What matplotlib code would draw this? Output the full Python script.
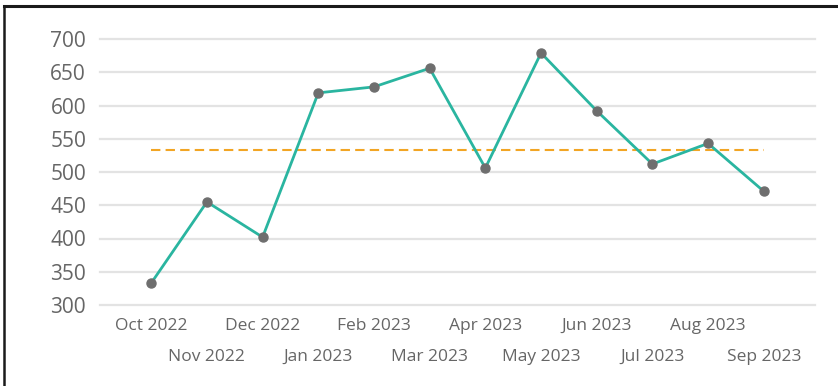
import matplotlib
matplotlib.use("Agg")
import matplotlib.pyplot as plt
from matplotlib.lines import Line2D

months = ["Oct 2022", "Nov 2022", "Dec 2022", "Jan 2023", "Feb 2023", "Mar 2023",
          "Apr 2023", "May 2023", "Jun 2023", "Jul 2023", "Aug 2023", "Sep 2023"]
values = [333, 455, 402, 619, 628, 656, 506, 679, 592, 512, 543, 471]
yticks = [300, 350, 400, 450, 500, 550, 600, 650, 700]

W, H = 838, 386
fig = plt.figure(figsize=(W / 100, H / 100), dpi=100)
plt.rcParams['font.family'] = ['Open Sans', 'DejaVu Sans']

def px(x0, y0, x1, y1):
    return [x0 / W, 1 - y1 / H, (x1 - x0) / W, (y1 - y0) / H]

ax = fig.add_axes(px(100, 39, 815, 305))
x = list(range(len(months)))
mean = sum(values) / len(values)

ax.set_ylim(300, 700)
ax.set_xlim(-0.92, len(months) - 1 + 0.92)
for yv in yticks:
    ax.axhline(yv, color="#e3e3e3", lw=1.6, zorder=0, clip_on=False)

ax.plot([x[0], x[-1]], [mean, mean], color="#f2a524", lw=1.5,
        dashes=(4.5, 2.5), zorder=2, clip_on=False)
ax.plot(x, values, color="#2ab5a0", lw=2.0, zorder=3, clip_on=False)
ax.plot(x, values, 'o', color="#6e6e6e", ms=6.5, zorder=4, clip_on=False)

for s in ax.spines.values():
    s.set_visible(False)

ax.set_yticks(yticks)
ax.set_yticklabels([str(v) for v in yticks], fontsize=15, color="#666666")
ax.tick_params(axis='y', length=0, pad=10)

ax.set_xticks(x[0::2])
ax.set_xticklabels(months[0::2], fontsize=12.5, color="#666666")
ax.set_xticks(x[1::2], minor=True)
ax.set_xticklabels(months[1::2], minor=True, fontsize=12.5, color="#666666")
ax.tick_params(axis='x', which='major', length=0, pad=9)
ax.tick_params(axis='x', which='minor', length=0, pad=31.5)

# frame border (top and left edges visible)
fig.add_artist(Line2D([4 / W, 4 / W], [0, 1 - 6 / H], transform=fig.transFigure,
                      color="#1a1a1a", lw=1.8))
fig.add_artist(Line2D([4 / W, 1], [1 - 6 / H, 1 - 6 / H], transform=fig.transFigure,
                      color="#1a1a1a", lw=2.2))

fig.savefig("out.png", dpi=100)
